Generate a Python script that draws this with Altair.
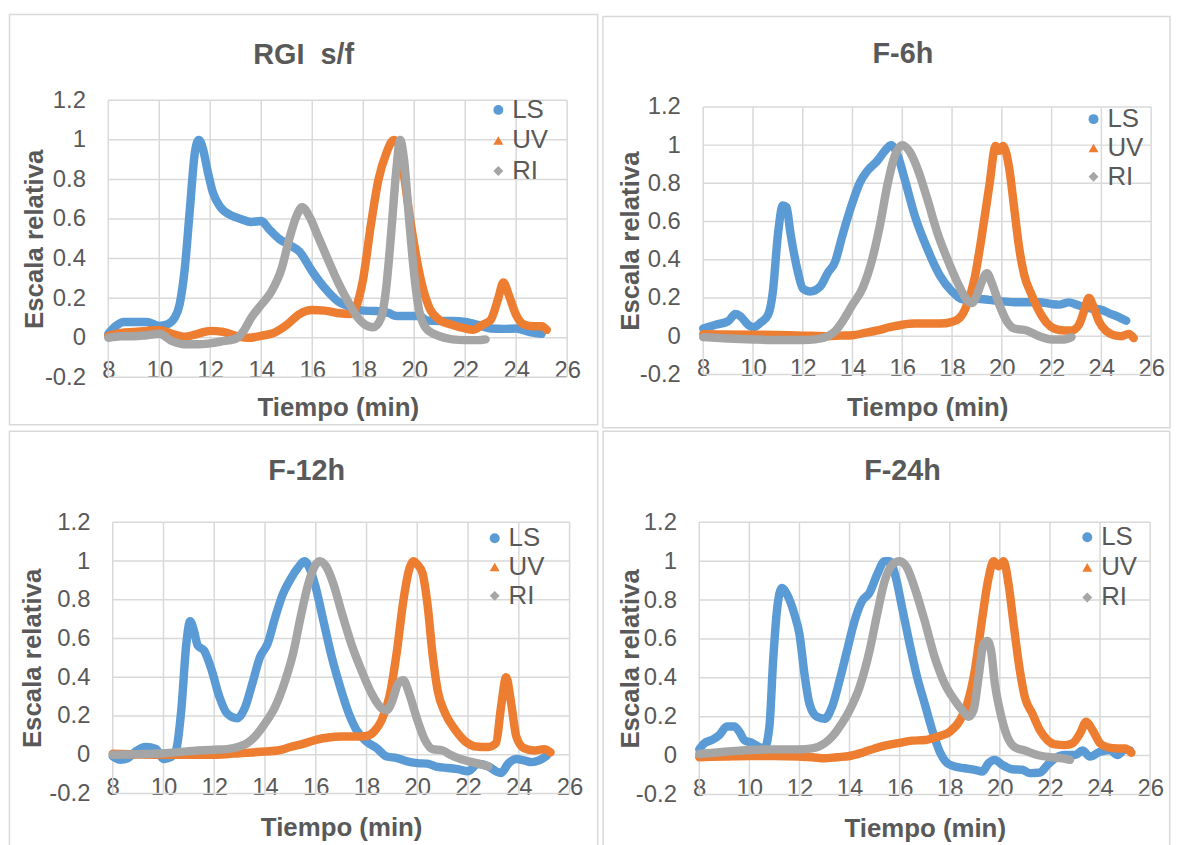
import altair as alt
import pandas as pd

SERIES = ["LS", "UV", "RI"]
COLORS = ["#5B9BD5", "#ED7D31", "#A5A5A5"]
SHAPES = ["circle", "triangle-up", "diamond"]
X_TICKS = [8, 10, 12, 14, 16, 18, 20, 22, 24, 26]
Y_TICKS = [-0.2, 0, 0.2, 0.4, 0.6, 0.8, 1, 1.2]
TITLES = ["RGI\u00a0\u00a0s/f", "F-6h", "F-12h", "F-24h"]

# ---- RGI s/f ----
RGI_LS = [(8.0, 0.02), (8.3, 0.06), (8.6, 0.08), (9.0, 0.08), (9.5, 0.08), (10.0, 0.06), (10.3, 0.067),
          (10.6, 0.1), (10.8, 0.17), (11.0, 0.35), (11.2, 0.65), (11.4, 0.94), (11.55, 1.0), (11.7, 0.96),
          (11.9, 0.84), (12.1, 0.735), (12.4, 0.66), (12.8, 0.62), (13.2, 0.6), (13.6, 0.585), (14.0, 0.59),
          (14.3, 0.55), (14.7, 0.5), (15.1, 0.47), (15.5, 0.435), (16.0, 0.335), (16.5, 0.25), (17.0, 0.185),
          (17.5, 0.155), (18.0, 0.137), (18.5, 0.135), (19.0, 0.125), (19.3, 0.11), (19.7, 0.11), (20.2, 0.11),
          (20.5, 0.087), (21.0, 0.085), (21.5, 0.085), (22.0, 0.08), (22.5, 0.065), (23.0, 0.047), (23.5, 0.045),
          (24.0, 0.047), (24.5, 0.03), (25.0, 0.02)]
RGI_UV = [(8.0, 0.01), (8.5, 0.025), (9.0, 0.03), (9.5, 0.035), (10.0, 0.04), (10.5, 0.02), (11.0, 0.005),
          (11.5, 0.02), (12.0, 0.035), (12.5, 0.03), (13.0, 0.01), (13.5, 0.0), (14.0, 0.01), (14.5, 0.025),
          (15.0, 0.065), (15.5, 0.12), (16.0, 0.14), (16.5, 0.137), (17.0, 0.125), (17.5, 0.12), (17.7, 0.15),
          (18.0, 0.3), (18.3, 0.57), (18.6, 0.8), (18.9, 0.93), (19.2, 1.0), (19.4, 0.97), (19.6, 0.82),
          (19.8, 0.635), (20.0, 0.47), (20.3, 0.27), (20.6, 0.15), (21.0, 0.09), (21.5, 0.065), (22.0, 0.047),
          (22.3, 0.04), (22.7, 0.067), (23.0, 0.09), (23.3, 0.2), (23.5, 0.28), (23.7, 0.22), (24.0, 0.115),
          (24.3, 0.067), (24.7, 0.058), (25.0, 0.058), (25.2, 0.04)]
RGI_RI = [(8.0, 0.0), (8.5, 0.008), (9.0, 0.008), (9.5, 0.013), (10.0, 0.02), (10.5, -0.017), (11.0, -0.033),
          (11.5, -0.033), (12.0, -0.028), (12.5, -0.017), (13.0, -0.005), (13.3, 0.033), (13.6, 0.1),
          (14.0, 0.167), (14.4, 0.234), (14.8, 0.35), (15.1, 0.5), (15.4, 0.62), (15.6, 0.66), (15.9, 0.61),
          (16.2, 0.52), (16.6, 0.4), (17.0, 0.284), (17.4, 0.184), (17.8, 0.1), (18.2, 0.058), (18.4, 0.053),
          (18.7, 0.1), (18.9, 0.25), (19.1, 0.535), (19.3, 0.85), (19.45, 1.0), (19.6, 0.9), (19.8, 0.6),
          (20.0, 0.32), (20.2, 0.134), (20.5, 0.042), (21.0, 0.008), (21.5, -0.008), (22.0, -0.012),
          (22.5, -0.012), (22.8, -0.008)]

# ---- F-6h ----
F6_LS = [(8.0, 0.04), (8.5, 0.06), (9.0, 0.078), (9.3, 0.116), (9.5, 0.104), (9.8, 0.06), (10.0, 0.047),
         (10.3, 0.07), (10.6, 0.11), (10.8, 0.234), (11.0, 0.53), (11.2, 0.684), (11.35, 0.675), (11.5, 0.545),
         (11.8, 0.338), (12.0, 0.25), (12.3, 0.234), (12.7, 0.26), (13.0, 0.33), (13.3, 0.39), (13.6, 0.53),
         (14.0, 0.7), (14.3, 0.805), (14.6, 0.866), (15.0, 0.918), (15.3, 0.97), (15.55, 1.0), (15.8, 0.952),
         (16.1, 0.82), (16.5, 0.632), (17.0, 0.459), (17.5, 0.32), (18.0, 0.234), (18.5, 0.19), (19.0, 0.196),
         (19.5, 0.19), (20.0, 0.182), (20.5, 0.178), (21.0, 0.178), (21.5, 0.178), (22.0, 0.168), (22.3, 0.165),
         (22.7, 0.177), (23.0, 0.165), (23.5, 0.147), (24.0, 0.138), (24.3, 0.121), (24.7, 0.1), (25.0, 0.081)]
F6_UV = [(8.0, 0.01), (10.0, 0.008), (12.0, 0.003), (13.0, 0.0), (13.5, 0.003), (14.0, 0.005), (14.5, 0.017),
         (15.0, 0.03), (15.5, 0.047), (16.0, 0.06), (16.5, 0.066), (17.0, 0.066), (17.5, 0.066), (18.0, 0.075),
         (18.3, 0.095), (18.6, 0.165), (18.9, 0.3), (19.2, 0.53), (19.5, 0.79), (19.75, 0.995), (19.9, 0.97),
         (20.05, 0.995), (20.3, 0.875), (20.5, 0.667), (20.7, 0.459), (20.9, 0.32), (21.2, 0.216), (21.5, 0.13),
         (21.8, 0.07), (22.1, 0.04), (22.5, 0.03), (22.8, 0.03), (23.1, 0.06), (23.3, 0.13), (23.5, 0.2),
         (23.7, 0.147), (23.9, 0.078), (24.2, 0.026), (24.5, 0.005), (24.8, 0.0), (25.1, 0.012), (25.3, -0.01)]
F6_RI = [(8.0, -0.005), (9.0, -0.012), (10.0, -0.017), (11.0, -0.02), (12.0, -0.02), (12.5, -0.017),
         (13.0, 0.0), (13.3, 0.026), (13.6, 0.078), (14.0, 0.165), (14.4, 0.25), (14.8, 0.407), (15.1, 0.58),
         (15.4, 0.79), (15.7, 0.944), (16.0, 1.0), (16.3, 0.965), (16.6, 0.88), (17.0, 0.72), (17.4, 0.545),
         (17.8, 0.407), (18.2, 0.286), (18.6, 0.19), (18.8, 0.173), (19.0, 0.216), (19.2, 0.286), (19.4, 0.33),
         (19.6, 0.277), (19.9, 0.165), (20.2, 0.078), (20.5, 0.04), (21.0, 0.03), (21.5, 0.0), (22.0, -0.017),
         (22.5, -0.017), (22.8, -0.005)]

# ---- F-12h ----
F12_LS = [(8.0, -0.008), (8.3, -0.026), (8.6, -0.017), (8.9, 0.017), (9.3, 0.04), (9.7, 0.03), (10.0, -0.022),
          (10.3, -0.012), (10.5, 0.026), (10.7, 0.23), (10.9, 0.573), (11.05, 0.69), (11.2, 0.64), (11.35, 0.564),
          (11.6, 0.538), (11.9, 0.436), (12.2, 0.3), (12.5, 0.214), (12.9, 0.188), (13.2, 0.24), (13.5, 0.368),
          (13.8, 0.504), (14.1, 0.573), (14.4, 0.709), (14.7, 0.829), (15.0, 0.906), (15.3, 0.966), (15.55, 1.0),
          (15.8, 0.949), (16.0, 0.863), (16.3, 0.692), (16.6, 0.52), (17.0, 0.333), (17.3, 0.214), (17.6, 0.128),
          (18.0, 0.068), (18.4, 0.034), (18.8, -0.009), (19.2, -0.017), (19.6, -0.034), (20.0, -0.043),
          (20.4, -0.046), (20.8, -0.063), (21.2, -0.068), (21.6, -0.074), (22.0, -0.085), (22.4, -0.046),
          (22.8, -0.06), (23.1, -0.085), (23.3, -0.094), (23.6, -0.043), (23.9, -0.022), (24.2, -0.029),
          (24.5, -0.038), (24.8, -0.029), (25.1, -0.005)]
F12_UV = [(8.0, 0.005), (10.0, 0.0), (12.0, 0.0), (12.5, 0.003), (13.0, 0.008), (13.5, 0.012), (14.0, 0.017),
          (14.5, 0.022), (15.0, 0.04), (15.5, 0.056), (16.0, 0.077), (16.5, 0.089), (17.0, 0.094), (17.5, 0.094),
          (18.0, 0.097), (18.3, 0.12), (18.6, 0.18), (18.9, 0.3), (19.2, 0.538), (19.45, 0.795), (19.7, 0.966),
          (19.85, 1.0), (20.0, 0.983), (20.2, 0.94), (20.4, 0.778), (20.6, 0.52), (20.8, 0.333), (21.1, 0.214),
          (21.5, 0.128), (21.9, 0.068), (22.3, 0.043), (22.8, 0.04), (23.1, 0.06), (23.3, 0.248), (23.5, 0.4),
          (23.7, 0.265), (23.9, 0.094), (24.2, 0.034), (24.6, 0.022), (25.0, 0.029), (25.25, 0.012)]
F12_RI = [(8.0, 0.0), (9.0, 0.003), (10.0, 0.008), (11.0, 0.019), (12.0, 0.026), (12.5, 0.029), (13.0, 0.043),
          (13.3, 0.06), (13.6, 0.094), (14.0, 0.162), (14.4, 0.248), (14.8, 0.385), (15.1, 0.52), (15.4, 0.709),
          (15.7, 0.88), (16.0, 0.983), (16.15, 1.0), (16.4, 0.974), (16.7, 0.88), (17.0, 0.744), (17.4, 0.573),
          (17.8, 0.436), (18.2, 0.316), (18.6, 0.239), (18.8, 0.23), (19.0, 0.273), (19.25, 0.368),
          (19.45, 0.385), (19.7, 0.308), (20.0, 0.18), (20.3, 0.077), (20.6, 0.029), (21.0, 0.022), (21.3, 0.0),
          (21.7, -0.022), (22.2, -0.039), (22.8, -0.06)]

# ---- F-24h ----
F24_LS = [(8.0, 0.032), (8.2, 0.063), (8.5, 0.08), (8.8, 0.105), (9.1, 0.15), (9.4, 0.15), (9.6, 0.123),
          (9.8, 0.08), (10.1, 0.066), (10.4, 0.043), (10.6, 0.037), (10.8, 0.148), (10.95, 0.489), (11.1, 0.744),
          (11.3, 0.863), (11.5, 0.83), (11.8, 0.727), (12.0, 0.625), (12.2, 0.42), (12.4, 0.267), (12.7, 0.2),
          (13.0, 0.19), (13.3, 0.25), (13.6, 0.386), (13.9, 0.54), (14.2, 0.693), (14.5, 0.795), (14.8, 0.838),
          (15.1, 0.931), (15.4, 1.0), (15.6, 1.0), (15.85, 0.914), (16.1, 0.76), (16.4, 0.574), (16.7, 0.403),
          (17.0, 0.267), (17.3, 0.131), (17.6, 0.02), (17.9, -0.039), (18.2, -0.056), (18.6, -0.065),
          (19.0, -0.073), (19.3, -0.082), (19.55, -0.039), (19.8, -0.022), (20.1, -0.048), (20.5, -0.07),
          (20.9, -0.073), (21.2, -0.09), (21.6, -0.087), (21.9, -0.048), (22.2, -0.014), (22.6, 0.003),
          (23.0, 0.003), (23.3, 0.026), (23.6, -0.005), (24.0, 0.02), (24.4, 0.029), (24.7, 0.003), (25.0, 0.032),
          (25.2, 0.026)]
F24_UV = [(8.0, -0.008), (9.0, -0.005), (10.0, -0.002), (11.0, -0.002), (12.0, -0.005), (12.5, -0.008),
          (13.0, -0.014), (13.5, -0.008), (14.0, -0.002), (14.5, 0.015), (15.0, 0.037), (15.5, 0.054),
          (16.0, 0.066), (16.5, 0.077), (17.0, 0.08), (17.5, 0.097), (18.0, 0.123), (18.4, 0.18), (18.7, 0.267),
          (19.0, 0.437), (19.3, 0.71), (19.55, 0.914), (19.75, 1.0), (19.95, 0.974), (20.15, 1.0), (20.35, 0.88),
          (20.55, 0.676), (20.8, 0.437), (21.0, 0.3), (21.3, 0.216), (21.6, 0.131), (21.9, 0.08), (22.2, 0.058),
          (22.6, 0.054), (22.9, 0.063), (23.2, 0.114), (23.45, 0.174), (23.7, 0.131), (24.0, 0.063),
          (24.3, 0.043), (24.7, 0.037), (25.0, 0.037), (25.25, 0.015)]
F24_RI = [(8.0, 0.008), (9.0, 0.02), (10.0, 0.029), (11.0, 0.032), (12.0, 0.032), (12.5, 0.037), (13.0, 0.063),
          (13.3, 0.097), (13.6, 0.148), (14.0, 0.233), (14.4, 0.352), (14.8, 0.54), (15.1, 0.727), (15.4, 0.897),
          (15.7, 0.982), (16.0, 1.0), (16.3, 0.965), (16.6, 0.863), (17.0, 0.693), (17.4, 0.506), (17.8, 0.37),
          (18.2, 0.284), (18.5, 0.233), (18.75, 0.2), (18.95, 0.233), (19.15, 0.403), (19.35, 0.574),
          (19.5, 0.59), (19.65, 0.54), (19.8, 0.37), (20.0, 0.233), (20.3, 0.097), (20.6, 0.043), (21.0, 0.026),
          (21.5, 0.003), (22.0, -0.008), (22.5, -0.014), (22.8, -0.022)]

TEXT = "#595959"
GRID = "#D9D9D9"
FONT = "Liberation Sans"


def panel(title, ls, uv, ri, w18, h, ytop, left_gap, frame, leg, tpos, xt_y, yt_x):
    """w18: pixel width of the 8..26 span; left_gap: extra empty pixels left of x=8;
    ytop > 1.2 leaves an empty strip above the 1.2 line."""
    rows = []
    for name, pts in zip(SERIES, (ls, uv, ri)):
        for t, v in pts:
            rows.append({"t": t, "v": v, "serie": name})
    df = pd.DataFrame(rows)

    ppx = w18 / 18.0
    xlo = 8 - left_gap / ppx
    w = w18 + left_gap
    ppu = h / (ytop + 0.2)
    top_gap = (ytop - 1.2) * ppu

    xscale = alt.Scale(domain=[xlo, 26], nice=False, zero=False)
    yscale = alt.Scale(domain=[-0.2, ytop], nice=False, zero=False)

    xaxis = alt.Axis(values=X_TICKS, title="Tiempo (min)", offset=-0.2 * ppu, grid=False,
                     domain=False, labelBaseline="alphabetic", labelPadding=40,
                     labelOverlap=False, labelFlush=False,
                     titleBaseline="alphabetic", titleX=left_gap + w18 / 2.0, titleY=xt_y)
    yaxis = alt.Axis(values=Y_TICKS, title="Escala relativa", labelExpr="datum.value + ''",
                     labelPadding=23 - left_gap, domain=False, grid=False,
                     labelOverlap=False, labelFlush=False,
                     titleBaseline="alphabetic", titleX=yt_x - left_gap,
                     titleY=top_gap + (h - top_gap) / 2.0)

    xenc = alt.X("t:Q", scale=xscale, axis=xaxis)
    yenc = alt.Y("v:Q", scale=yscale, axis=yaxis)

    legend = alt.Legend(orient="none", legendX=left_gap + leg[0] - 9, legendY=leg[1] + top_gap - 16,
                        title=None, labelFontSize=26, labelColor=TEXT, labelFont=FONT, symbolSize=100,
                        rowPadding=leg[2] - 26, labelOffset=1, padding=0, symbolStrokeWidth=0)

    one = pd.DataFrame({"label": [title]})
    fr = alt.Chart(one).mark_rect(
        fill="white", fillOpacity=0, stroke=GRID, strokeWidth=1.5
    ).encode(x=alt.value(frame[0] + left_gap), x2=alt.value(frame[1] + left_gap),
             y=alt.value(frame[2]), y2=alt.value(frame[3]))

    ttl = alt.Chart(one).mark_text(
        font=FONT, fontSize=29, fontWeight="bold", color=TEXT, align="center", baseline="alphabetic"
    ).encode(text="label:N", x=alt.value(tpos[0] + left_gap), y=alt.value(tpos[1]))

    # grid lines drawn from the tick lists so they stop exactly at 8..26 and -0.2..1.2
    vgrid = alt.Chart(pd.DataFrame({"t": X_TICKS})).mark_rule(color=GRID, strokeWidth=1.5).encode(
        x=xenc, y=alt.YDatum(-0.2, scale=yscale, axis=yaxis), y2=alt.Y2Datum(1.2))
    hgrid = alt.Chart(pd.DataFrame({"v": Y_TICKS})).mark_rule(color=GRID, strokeWidth=1.5).encode(
        y=yenc, x=alt.XDatum(8, scale=xscale, axis=xaxis), x2=alt.X2Datum(26))

    base = alt.Chart(df)
    pts = base.mark_point(filled=True, size=40, opacity=1).encode(
        x=xenc, y=yenc,
        color=alt.Color("serie:N", scale=alt.Scale(domain=SERIES, range=COLORS), legend=legend),
        shape=alt.Shape("serie:N", scale=alt.Scale(domain=SERIES, range=SHAPES), legend=legend),
    )
    lines = []
    for name, col in zip(SERIES, COLORS):
        lines.append(base.transform_filter(alt.datum.serie == name).mark_line(
            strokeWidth=8.5, strokeCap="round", strokeJoin="round", interpolate="monotone", color=col
        ).encode(x=xenc, y=yenc))

    return alt.layer(fr, hgrid, vgrid, ttl, pts, *lines).properties(width=w, height=h)


p1 = panel(TITLES[0], RGI_LS, RGI_UV, RGI_RI, 462, 279, 1.2, 0,
           (-99.5, 492.7, -86.3, 326.7), (388.7, 12.7, 30.8), (196.7, -37), 78.3, -66)
p2 = panel(TITLES[1], F6_LS, F6_UV, F6_RI, 451, 276, 1.2348, 0,
           (-101, 470, -84.3, 329.7), (389, 15.3, 29), (201, -37.3), 80, -65)
p3 = panel(TITLES[2], F12_LS, F12_UV, F12_RI, 460, 273, 1.2, 4.45,
           (-104, 488.3, -91.75, 327), (380.6, 19, 29), (195.3, -43), 81, -64)
p4 = panel(TITLES[3], F24_LS, F24_UV, F24_RI, 454, 274, 1.2, 0,
           (-96.8, 473.7, -91.75, 327.3), (386.7, 18, 30.3), (204.7, -42.5), 81, -61)

row1 = alt.hconcat(p1, p2, spacing=3).resolve_scale(color="independent", shape="independent").resolve_legend(
    color="independent", shape="independent")
row2 = alt.hconcat(p3, p4, spacing=3).resolve_scale(color="independent", shape="independent").resolve_legend(
    color="independent", shape="independent")

chart = alt.vconcat(row1, row2, spacing=1).resolve_scale(
    color="independent", shape="independent"
).resolve_legend(
    color="independent", shape="independent"
).properties(
    padding={"left": 0, "top": 2, "right": 0, "bottom": 0}, background="white"
).configure_view(stroke=None).configure_axis(
    ticks=False, tickSize=0,
    labelFont=FONT, labelFontSize=24, labelColor=TEXT,
    titleFont=FONT, titleFontSize=26, titleFontWeight="bold", titleColor=TEXT,
).configure_legend(labelFontSize=26, symbolSize=100)

chart.save("out.html", embed_options={"renderer": "svg", "actions": False})
